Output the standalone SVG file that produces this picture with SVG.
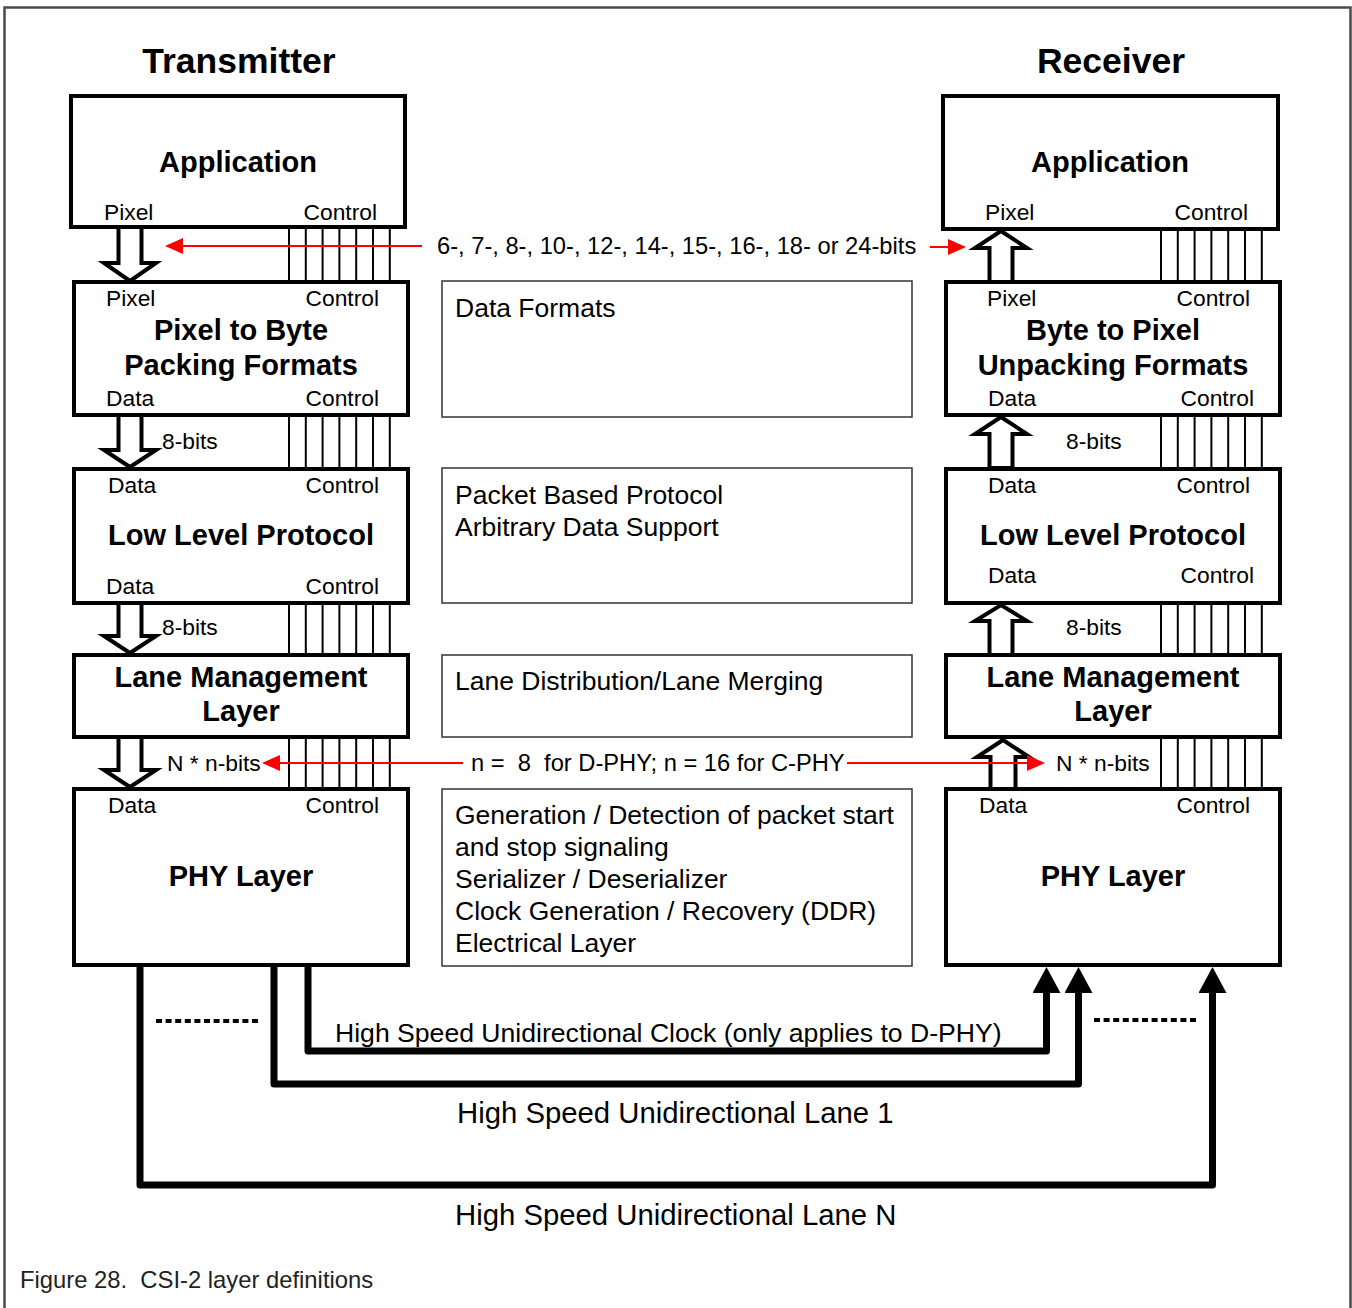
<svg xmlns="http://www.w3.org/2000/svg" width="1352" height="1308" viewBox="0 0 1352 1308">
<style>
text{font-family:"Liberation Sans",Arial,Helvetica,sans-serif;fill:#000}
.ttl{font-size:35.5px;font-weight:bold;text-anchor:middle}
.bt{font-size:29px;font-weight:bold;text-anchor:middle}
.lb{font-size:22.8px}
.lbe{font-size:22.8px;text-anchor:end}
.mt{font-size:26.5px}
.rt{font-size:23.7px;white-space:pre}
.bot{font-size:26.6px}
.botl{font-size:29.3px}
.cap{font-size:23.8px;fill:#222}
.box{fill:#fff;stroke:#000;stroke-width:4}
.mbox{fill:#fff;stroke:#333;stroke-width:1.5}
.hol{fill:#fff;stroke:#000;stroke-width:4;stroke-linejoin:miter}
.ctl{stroke:#000;stroke-width:2}
.red{stroke:#f00;stroke-width:2;fill:none;marker-end:url(#ra)}
.lane{stroke:#000;stroke-width:7;fill:none;stroke-linejoin:round;marker-end:url(#ba)}
.dot{stroke:#000;stroke-width:4;stroke-dasharray:6 3.6}
</style>
<defs>
<marker id="ra" markerUnits="userSpaceOnUse" viewBox="0 0 18 16" refX="16" refY="8" markerWidth="18" markerHeight="16" orient="auto">
<path d="M0,0 L18,8 L0,16 z" fill="#f00"/>
</marker>
<marker id="ba" markerUnits="userSpaceOnUse" viewBox="0 0 26 28" refX="0" refY="14" markerWidth="26" markerHeight="28" orient="auto">
<path d="M0,0 L26,14 L0,28 z" fill="#000"/>
</marker>
</defs>
<rect width="1352" height="1308" fill="#fff"/>
<path d="M4.5,1308 V7.5 H1350.5 V1308" fill="none" stroke="#4a4a4a" stroke-width="2.5"/>

<text class="ttl" x="239" y="73">Transmitter</text>
<text class="ttl" x="1111" y="73">Receiver</text>

<g id="connectors">
  <!-- hollow arrows transmitter (down) -->
  <polygon class="hol" points="118.5,227 118.5,263 104,263 130,281 156,263 141.5,263 141.5,227"/>
  <polygon class="hol" points="118.5,415 118.5,450 104,450 130,467 156,450 141.5,450 141.5,415"/>
  <polygon class="hol" points="118.5,603 118.5,636 104,636 130,653 156,636 141.5,636 141.5,603"/>
  <polygon class="hol" points="118.5,737 118.5,770 104,770 130,787 156,770 141.5,770 141.5,737"/>
  <!-- hollow arrows receiver (up) -->
  <polygon class="hol" points="989.5,282 989.5,248 975,248 1001,231 1027,248 1012.5,248 1012.5,282"/>
  <polygon class="hol" points="989.5,468 989.5,434 975,434 1001,417 1027,434 1012.5,434 1012.5,468"/>
  <polygon class="hol" points="989.5,655 989.5,621 975,621 1001,605 1027,621 1012.5,621 1012.5,655"/>
  <polygon class="hol" points="990.5,789 990.5,757 977,757 1003,740 1029,757 1015.5,757 1015.5,789"/>
  <!-- control buses -->
  <g class="ctl">
    <path d="M289,227V282M305.8,227V282M322.6,227V282M339.4,227V282M356.2,227V282M373,227V282M389.8,227V282"/>
    <path d="M289,415V469M305.8,415V469M322.6,415V469M339.4,415V469M356.2,415V469M373,415V469M389.8,415V469"/>
    <path d="M289,603V655M305.8,603V655M322.6,603V655M339.4,603V655M356.2,603V655M373,603V655M389.8,603V655"/>
    <path d="M289,737V789M305.8,737V789M322.6,737V789M339.4,737V789M356.2,737V789M373,737V789M389.8,737V789"/>
    <path d="M1161,229V282M1177.8,229V282M1194.6,229V282M1211.4,229V282M1228.2,229V282M1245,229V282M1261.8,229V282"/>
    <path d="M1161,415V469M1177.8,415V469M1194.6,415V469M1211.4,415V469M1228.2,415V469M1245,415V469M1261.8,415V469"/>
    <path d="M1161,603V655M1177.8,603V655M1194.6,603V655M1211.4,603V655M1228.2,603V655M1245,603V655M1261.8,603V655"/>
    <path d="M1161,737V789M1177.8,737V789M1194.6,737V789M1211.4,737V789M1228.2,737V789M1245,737V789M1261.8,737V789"/>
  </g>
  <!-- red annotation arrows -->
  <path class="red" d="M422,246 H167"/>
  <path class="red" d="M930,247 H964"/>
  <path class="red" d="M463,763 H264"/>
  <path class="red" d="M847,763 H1043"/>
  <!-- lanes -->
  <path class="lane" d="M308,965 V1051 H1046.5 V993"/>
  <path class="lane" d="M274,965 V1084 H1078.5 V993"/>
  <path class="lane" d="M140,965 V1185 H1212.5 V993"/>
  <line class="dot" x1="156" y1="1021" x2="258" y2="1021"/>
  <line class="dot" x1="1094" y1="1020" x2="1198" y2="1020"/>
</g>

<g id="tx-application">
  <rect class="box" x="71" y="96" width="334" height="131"/>
  <text class="bt" x="238" y="172">Application</text>
  <text class="lb" x="104" y="220">Pixel</text>
  <text class="lbe" x="377" y="220">Control</text>
</g>
<g id="tx-packing">
  <rect class="box" x="74" y="282" width="334" height="133"/>
  <text class="lb" x="106" y="306">Pixel</text>
  <text class="lbe" x="379" y="306">Control</text>
  <text class="bt" x="241" y="340">Pixel to Byte</text>
  <text class="bt" x="241" y="375">Packing Formats</text>
  <text class="lb" x="106" y="406">Data</text>
  <text class="lbe" x="379" y="406">Control</text>
</g>
<g id="tx-llp">
  <rect class="box" x="74" y="469" width="334" height="134"/>
  <text class="lb" x="108" y="493">Data</text>
  <text class="lbe" x="379" y="493">Control</text>
  <text class="bt" x="241" y="545">Low Level Protocol</text>
  <text class="lb" x="106" y="594">Data</text>
  <text class="lbe" x="379" y="594">Control</text>
</g>
<g id="tx-lane-mgmt">
  <rect class="box" x="74" y="655" width="334" height="82"/>
  <text class="bt" x="241" y="687">Lane Management</text>
  <text class="bt" x="241" y="721">Layer</text>
</g>
<g id="tx-phy">
  <rect class="box" x="74" y="789" width="334" height="176"/>
  <text class="lb" x="108" y="813">Data</text>
  <text class="lbe" x="379" y="813">Control</text>
  <text class="bt" x="241" y="886">PHY Layer</text>
</g>

<g id="rx-application">
  <rect class="box" x="943" y="96" width="335" height="133"/>
  <text class="bt" x="1110" y="172">Application</text>
  <text class="lb" x="985" y="220">Pixel</text>
  <text class="lbe" x="1248" y="220">Control</text>
</g>
<g id="rx-unpacking">
  <rect class="box" x="946" y="282" width="334" height="133"/>
  <text class="lb" x="987" y="306">Pixel</text>
  <text class="lbe" x="1250" y="306">Control</text>
  <text class="bt" x="1113" y="340">Byte to Pixel</text>
  <text class="bt" x="1113" y="375">Unpacking Formats</text>
  <text class="lb" x="988" y="406">Data</text>
  <text class="lbe" x="1254" y="406">Control</text>
</g>
<g id="rx-llp">
  <rect class="box" x="946" y="469" width="334" height="134"/>
  <text class="lb" x="988" y="493">Data</text>
  <text class="lbe" x="1250" y="493">Control</text>
  <text class="bt" x="1113" y="545">Low Level Protocol</text>
  <text class="lb" x="988" y="583">Data</text>
  <text class="lbe" x="1254" y="583">Control</text>
</g>
<g id="rx-lane-mgmt">
  <rect class="box" x="946" y="655" width="334" height="82"/>
  <text class="bt" x="1113" y="687">Lane Management</text>
  <text class="bt" x="1113" y="721">Layer</text>
</g>
<g id="rx-phy">
  <rect class="box" x="946" y="789" width="334" height="176"/>
  <text class="lb" x="979" y="813">Data</text>
  <text class="lbe" x="1250" y="813">Control</text>
  <text class="bt" x="1113" y="886">PHY Layer</text>
</g>

<g id="desc-data-formats">
  <rect class="mbox" x="442" y="281" width="470" height="136"/>
  <text class="mt" x="455" y="317">Data Formats</text>
</g>
<g id="desc-llp">
  <rect class="mbox" x="442" y="468" width="470" height="135"/>
  <text class="mt" x="455" y="504">Packet Based Protocol</text>
  <text class="mt" x="455" y="536">Arbitrary Data Support</text>
</g>
<g id="desc-lane">
  <rect class="mbox" x="442" y="655" width="470" height="82"/>
  <text class="mt" x="455" y="690">Lane Distribution/Lane Merging</text>
</g>
<g id="desc-phy">
  <rect class="mbox" x="442" y="789" width="470" height="177"/>
  <text class="mt" x="455" y="824">Generation / Detection of packet start</text>
  <text class="mt" x="455" y="856">and stop signaling</text>
  <text class="mt" x="455" y="888">Serializer / Deserializer</text>
  <text class="mt" x="455" y="920">Clock Generation / Recovery (DDR)</text>
  <text class="mt" x="455" y="952">Electrical Layer</text>
</g>

<g id="labels">
  <text class="rt" x="437" y="254">6-, 7-, 8-, 10-, 12-, 14-, 15-, 16-, 18- or 24-bits</text>
  <text class="rt" x="471" y="771">n =  8  for D-PHY; n = 16 for C-PHY</text>
  <text class="lb" x="162" y="449">8-bits</text>
  <text class="lb" x="162" y="635">8-bits</text>
  <text class="lb" x="167" y="771">N * n-bits</text>
  <text class="lb" x="1066" y="449">8-bits</text>
  <text class="lb" x="1066" y="635">8-bits</text>
  <text class="lb" x="1056" y="771">N * n-bits</text>
  <text class="bot" x="335" y="1042">High Speed Unidirectional Clock (only applies to D-PHY)</text>
  <text class="botl" x="457" y="1123">High Speed Unidirectional Lane 1</text>
  <text class="botl" x="455" y="1225">High Speed Unidirectional Lane N</text>
  <text class="cap" x="20" y="1288" style="white-space:pre">Figure 28.  CSI-2 layer definitions</text>
</g>
</svg>
